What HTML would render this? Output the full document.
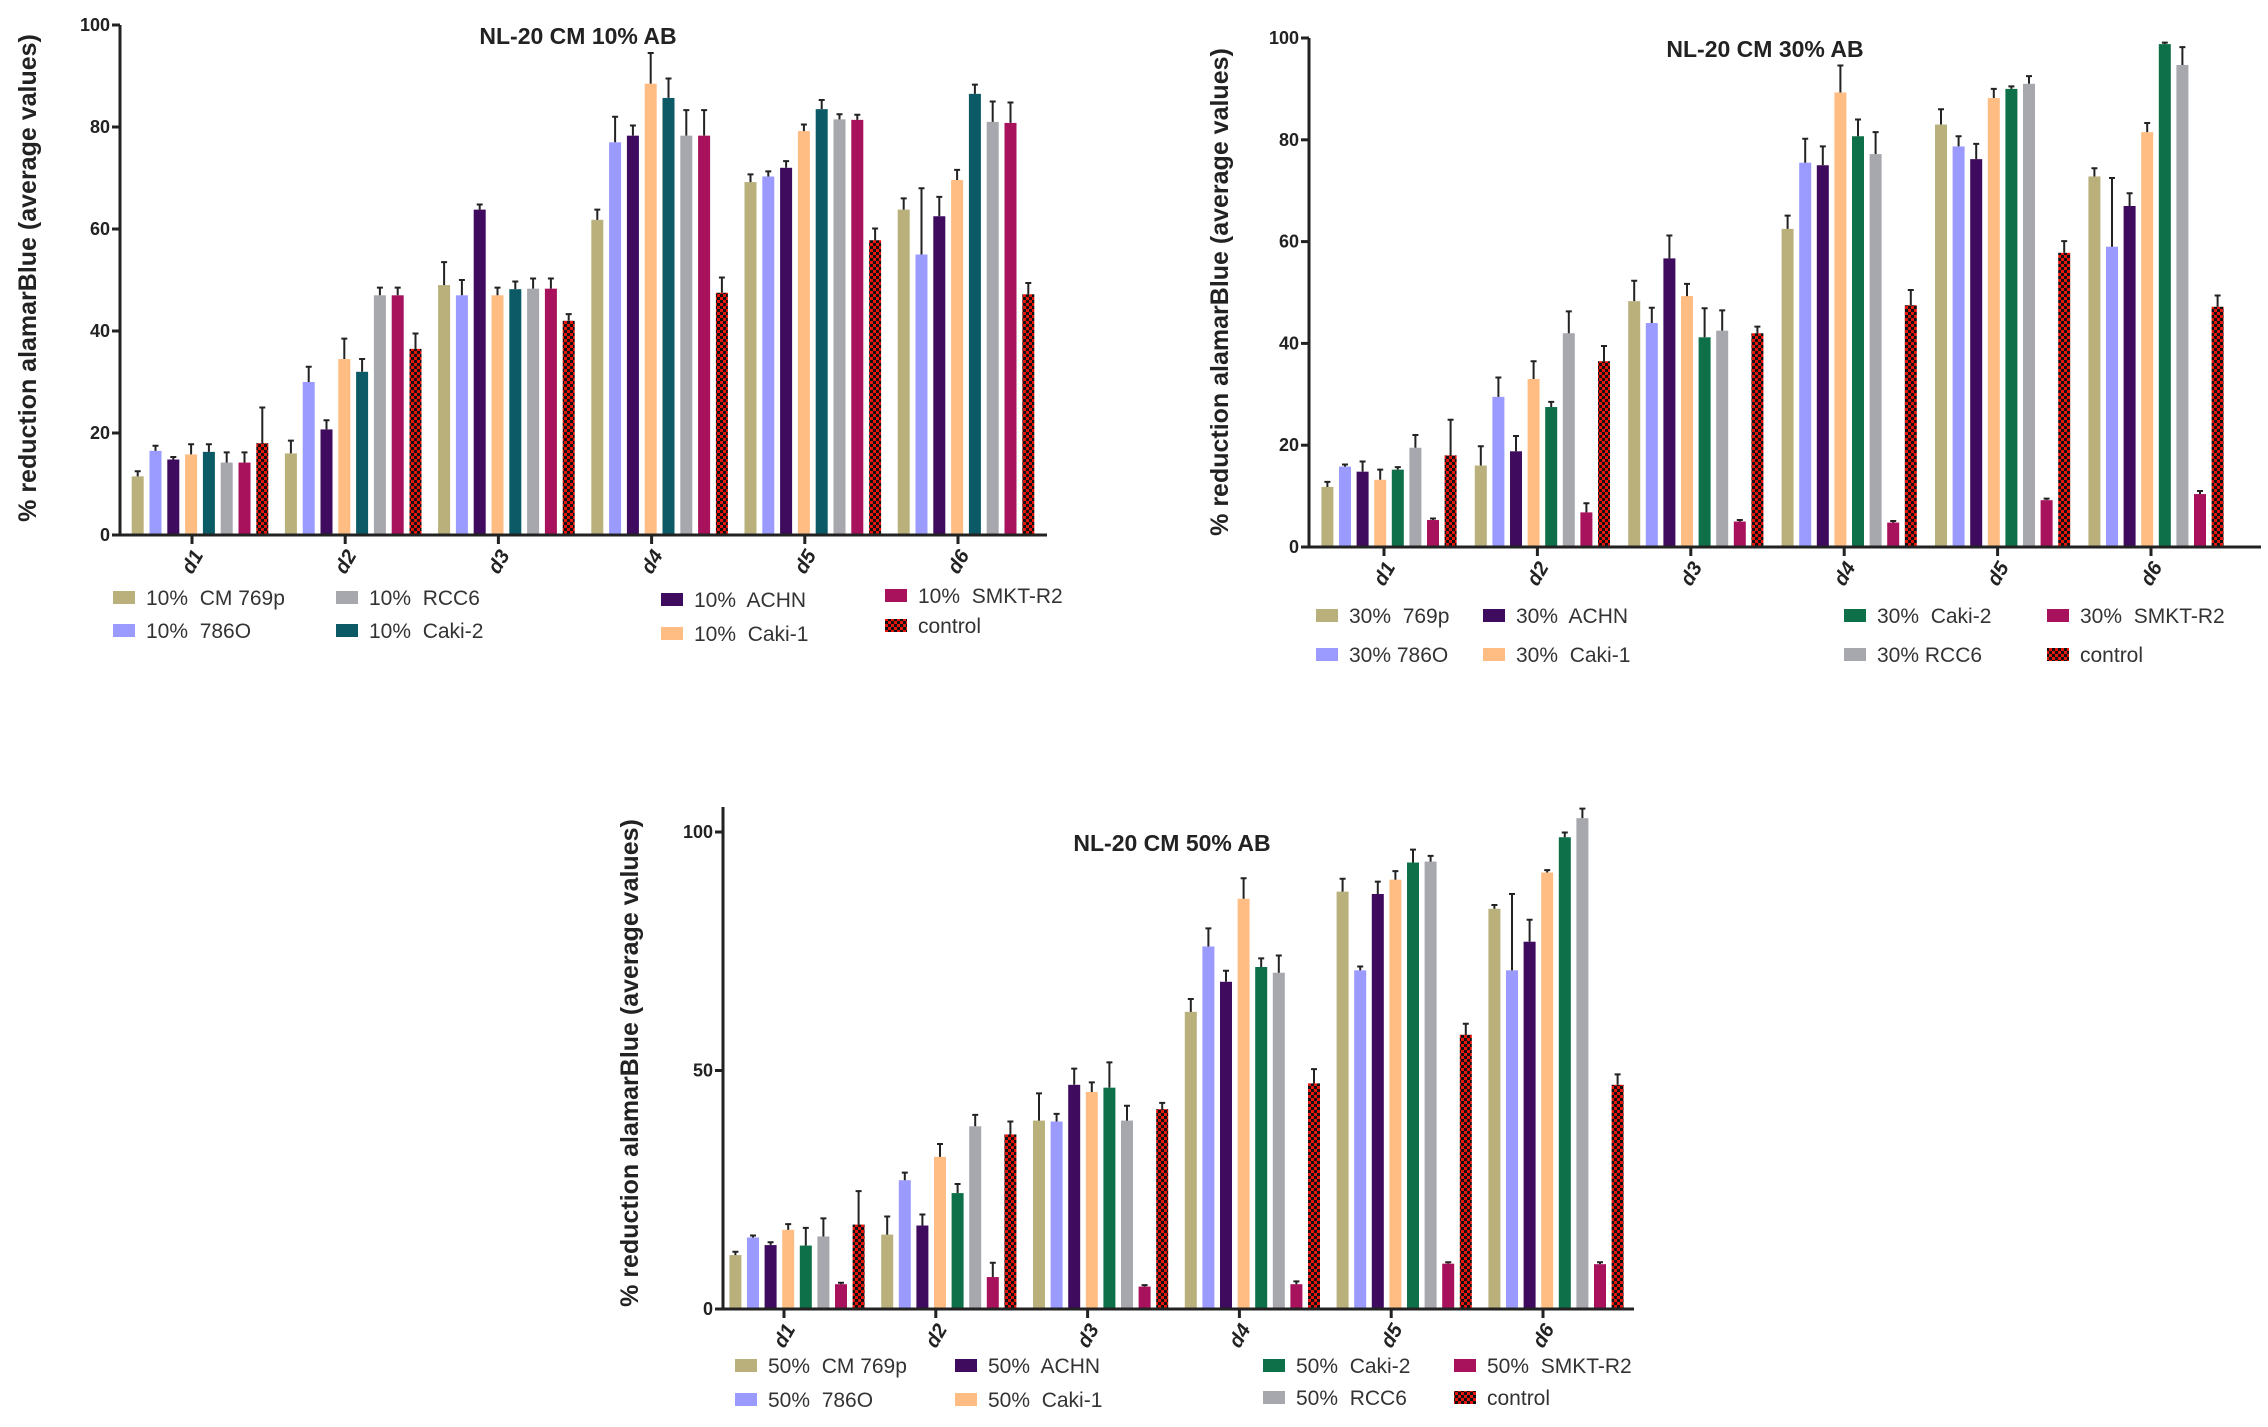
<!DOCTYPE html>
<html><head><meta charset="utf-8"><style>
body{margin:0;background:#fff}
svg{display:block}
text{font-family:"Liberation Sans",sans-serif}
</style></head><body>
<svg id="root" width="2268" height="1427" viewBox="0 0 2268 1427" xmlns="http://www.w3.org/2000/svg">
<defs>
<pattern id="chk" width="6" height="6" patternUnits="userSpaceOnUse">
<rect width="6" height="6" fill="#e8150f"/><rect width="3" height="3" fill="#111"/><rect x="3" y="3" width="3" height="3" fill="#111"/>
</pattern>
</defs>
</svg>
<script>
const categories = ["d1","d2","d3","d4","d5","d6"];
const colors10 = ["#b9b07c","#9b9bff","#3e0b5e","#ffbd84","#0c5a66","#a7a7ae","#a8125c","url(#chk)"];
const colors30 = ["#b9b07c","#9b9bff","#3e0b5e","#ffbd84","#0d7048","#a7a7ae","#a8125c","url(#chk)"];
const vals10 = [
 [11.5,16,49,61.8,69.2,63.8],
 [16.5,30,47,77,70.3,55],
 [14.8,20.7,63.8,78.3,72,62.5],
 [15.8,34.5,47,88.5,79.2,69.6],
 [16.3,32,48.2,85.7,83.5,86.5],
 [14.2,47,48.3,78.3,81.5,81],
 [14.2,47,48.3,78.3,81.4,80.8],
 [18,36.5,42,47.5,57.8,47.2]];
const errs10 = [
 [1,2.5,4.5,2,1.5,2.2],[1,3,3,5,1,13],[0.5,1.8,1,2,1.3,3.8],[2,4,1.5,6,1.3,2],
 [1.5,2.5,1.5,3.8,1.8,1.8],[2,1.5,2,5,1,4],[2,1.5,2,5,1,4],[7,3,1.3,3,2.3,2.2]];
const vals30 = [
 [11.8,16,48.3,62.5,83,72.8],
 [15.8,29.5,44,75.5,78.7,59],
 [14.8,18.8,56.7,75,76.2,67],
 [13.2,33,49.3,89.3,88.2,81.5],
 [15.2,27.5,41.2,80.7,90,98.8],
 [19.5,42,42.5,77.2,91,94.7],
 [5.3,6.8,5,4.8,9.2,10.4],
 [18,36.5,42,47.5,57.8,47.2]];
const errs30 = [
 [1,3.8,4,2.6,3,1.6],[0.4,3.8,3,4.7,2,13.5],[2,3,4.5,3.7,3,2.5],[2,3.5,2.4,5.3,1.8,1.8],
 [0.5,1,5.7,3.3,0.5,0.3],[2.5,4.3,4,4.3,1.5,3.5],[0.3,1.8,0.3,0.3,0.3,0.6],[7,3,1.3,3,2.3,2.2]];
const vals50 = [
 [11.3,15.6,39.5,62.3,87.5,83.9],
 [15,27,39.3,76,71,71],
 [13.4,17.5,47,68.6,87,77],
 [16.6,31.9,45.5,86,90,91.5],
 [13.3,24.3,46.4,71.7,93.6,98.9],
 [15.2,38.3,39.5,70.5,93.8,102.9],
 [5.2,6.7,4.7,5.2,9.5,9.4],
 [17.7,36.6,41.9,47.3,57.5,47]];
const errs50 = [
 [0.7,3.8,5.7,2.7,2.7,0.8],[0.4,1.6,1.6,3.8,0.8,16],[0.6,2.3,3.4,2.3,2.6,4.6],[1.2,2.7,2,4.3,1.8,0.5],
 [3.7,1.9,5.3,1.8,2.7,1],[3.8,2.4,3.1,3.6,1.2,2],[0.3,3,0.3,0.6,0.3,0.4],[7,2.7,1.3,3,2.3,2.2]];
const ticks10 = [0,20,40,60,80,100];
const ticks30 = [0,20,40,60,80,100];
const ticks50 = [0,50,100];
const legend10 = ["10%  CM 769p","10%  786O","10%  ACHN","10%  Caki-1","10%  Caki-2","10%  RCC6","10%  SMKT-R2","control"];
const legend30 = ["30%  769p","30% 786O","30%  ACHN","30%  Caki-1","30%  Caki-2","30% RCC6","30%  SMKT-R2","control"];
const legend50 = ["50%  CM 769p","50%  786O","50%  ACHN","50%  Caki-1","50%  Caki-2","50%  RCC6","50%  SMKT-R2","control"];

const NS="http://www.w3.org/2000/svg";
const root=document.getElementById('root');
function mk(tag,attrs,parent){const e=document.createElementNS(NS,tag);for(const k in attrs)e.setAttribute(k,attrs[k]);parent.appendChild(e);return e;}

function drawChart(c){
  const g=mk('g',{},root);
  
  
  const y=v=>c.y0-(v-0)*(c.y0-c.y100)/100;
  const x0=c.d1, dx=(c.d6-c.d1)/5;
  const xc=i=>x0+i*dx;
  for(let s=0;s<8;s++){
    for(let i=0;i<categories.length;i++){
      const v=c.vals[s][i], e=c.errs[s][i];
      const cx=xc(i)+c.shift+(s-3.5)*c.step;
      const r=mk('rect',{x:cx-c.bw/2,y:y(v),width:c.bw,height:c.y0-y(v),fill:c.colors[s]},g);
      
      
      const l=mk('path',{d:`M${cx} ${y(v)}V${y(v+e)}M${cx-3} ${y(v+e)}H${cx+3}`,stroke:'#222','stroke-width':2,fill:'none'},g);
      
      
    }
  }
  const ax=mk('path',{d:`M${c.ax} ${c.ytop}V${c.y0}H${c.right}`,stroke:'#222','stroke-width':3,fill:'none'},g);
  
  
  c.ticks.forEach(t=>{
    mk('path',{d:`M${c.ax-8} ${y(t)}H${c.ax}`,stroke:'#222','stroke-width':3},g);
    const tx=mk('text',{x:c.ax-10,y:y(t)+6,'text-anchor':'end','font-size':18,'font-weight':'bold',fill:'#222'},g);
    tx.textContent=t;
    
    
  });
  categories.forEach((cat,i)=>{
    mk('path',{d:`M${xc(i)} ${c.y0}V${c.y0+9}`,stroke:'#222','stroke-width':3},g);
    const tx=mk('text',{x:xc(i)+6,y:c.y0+30,'text-anchor':'middle','font-size':20,'font-weight':'bold','font-style':'italic',fill:'#222',transform:`rotate(-60 ${xc(i)+6} ${c.y0+30})`},g);
    tx.textContent=cat;
    
    
  });
  const ti=mk('text',{x:c.tx,y:c.ty,'text-anchor':'middle','font-size':23,'font-weight':'bold',fill:'#222'},g);
  ti.textContent=c.title;
  
  
  const yt=mk('text',{x:c.ytx,y:c.yty,'text-anchor':'middle','font-size':25,'font-weight':'bold',fill:'#222',transform:`rotate(-90 ${c.ytx} ${c.yty})`},g);
  yt.textContent='% reduction alamarBlue (average values)';
  
  
  c.leg.forEach((p,s)=>{
    const lg=mk('g',{},g);
    
    
    mk('rect',{x:p[0],y:p[1]-6,width:22,height:13,fill:c.colors[s]},lg);
    const t=mk('text',{x:p[0]+33,y:p[1]+8,'font-size':21,fill:'#333','xml:space':'preserve'},lg);
    t.style.whiteSpace='pre';
    t.textContent=c.labels[s];
  });
}
drawChart({name:'chart-10pct',vals:vals10,errs:errs10,colors:colors10,ticks:ticks10,labels:legend10,
  ax:120,y0:535,y100:25,ytop:25,right:1047,d1:192,d6:958,shift:8,step:17.8,bw:12,
  title:'NL-20 CM 10% AB',tx:578,ty:44,ytx:36,yty:278,
  leg:[[113,597],[113,630],[661,599],[661,633],[336,630],[336,597],[885,595],[885,625]]});
drawChart({name:'chart-30pct',vals:vals30,errs:errs30,colors:colors30,ticks:ticks30,labels:legend30,
  ax:1309,y0:547,y100:38,ytop:38,right:2261,d1:1384,d6:2151,shift:5,step:17.6,bw:12,
  title:'NL-20 CM 30% AB',tx:1765,ty:57,ytx:1228,yty:292,
  leg:[[1316,615],[1316,654],[1483,615],[1483,654],[1844,615],[1844,654],[2047,615],[2047,654]]});
drawChart({name:'chart-50pct',vals:vals50,errs:errs50,colors:colors30,ticks:ticks50,labels:legend50,
  ax:723,y0:1309,y100:832,ytop:807,right:1634,d1:784,d6:1543,shift:13,step:17.6,bw:12,
  title:'NL-20 CM 50% AB',tx:1172,ty:851,ytx:638,yty:1063,
  leg:[[735,1365],[735,1399],[955,1365],[955,1399],[1263,1365],[1263,1397],[1454,1365],[1454,1397]]});
</script>
</body></html>
